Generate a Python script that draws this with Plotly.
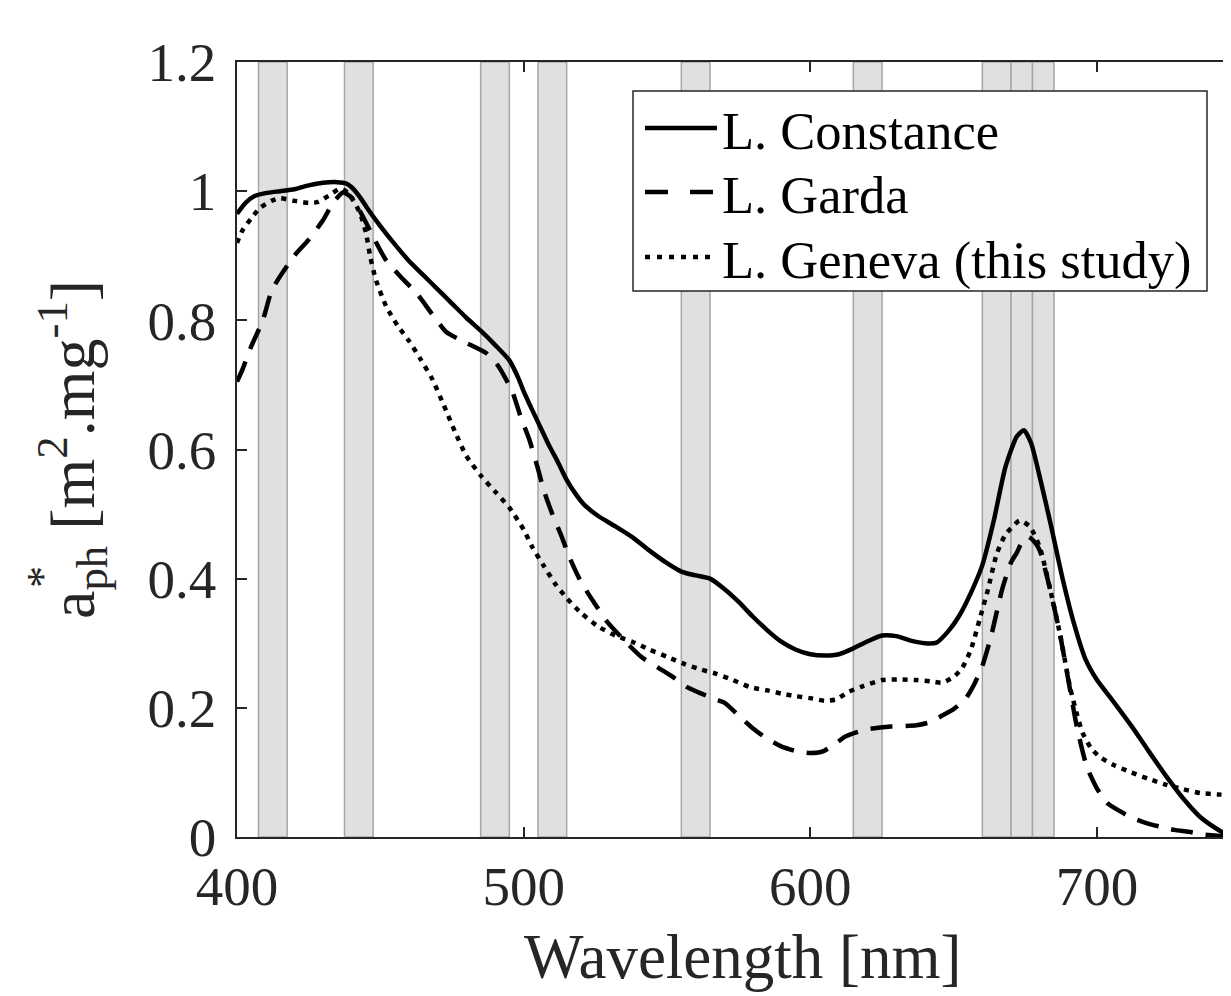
import plotly.graph_objects as go

# ---------------- data ----------------
wl_constance = [400, 403, 406, 410, 415, 420, 425, 430, 435, 438, 440, 443, 446, 450, 455, 460, 465, 470,
                475, 480, 485, 490, 495, 498, 500, 503, 506, 509, 512, 515, 518, 521, 526, 532, 538, 544,
                550, 555, 560, 565, 570, 575, 580, 585, 590, 595, 600, 605, 610, 615, 620, 625, 630, 635,
                640, 644, 648, 652, 656, 660, 664, 668, 672, 674.5, 677, 680, 684, 688, 692, 696, 700, 705,
                712, 718, 724, 730, 736, 742, 747, 750]
a_constance = [0.965, 0.982, 0.992, 0.997, 1.000, 1.003, 1.009, 1.013, 1.014, 1.012, 1.006, 0.990, 0.970,
               0.946, 0.918, 0.892, 0.870, 0.848, 0.826, 0.804, 0.784, 0.762, 0.738, 0.712, 0.690, 0.661,
               0.633, 0.605, 0.580, 0.553, 0.532, 0.515, 0.497, 0.481, 0.464, 0.443, 0.424, 0.411, 0.405,
               0.400, 0.384, 0.364, 0.341, 0.320, 0.302, 0.290, 0.283, 0.281, 0.283, 0.292, 0.303, 0.312,
               0.311, 0.304, 0.300, 0.301, 0.318, 0.343, 0.378, 0.421, 0.490, 0.572, 0.620, 0.630, 0.610,
               0.558, 0.481, 0.400, 0.330, 0.275, 0.243, 0.214, 0.172, 0.133, 0.095, 0.060, 0.031, 0.012,
               0.000, -0.004]

wl_garda = [400, 402, 405, 409, 412, 415, 420, 425, 430, 433.5, 437, 440, 444, 448, 452, 457, 463, 468,
            473, 480, 487, 491, 496, 499, 502, 505, 507, 510, 513, 516, 520, 525, 529, 535, 541, 547, 552,
            557, 562, 567, 570, 575, 580, 585, 590, 596, 600, 604, 608, 612, 616, 620, 628, 637, 642, 646,
            650, 654, 657, 660, 663, 667, 670, 672, 674, 676, 678, 680, 683, 687, 690.6, 693, 696.5, 700,
            703.5, 708, 712, 717, 722, 727, 732, 737, 742, 750]
a_garda = [0.705, 0.725, 0.760, 0.800, 0.845, 0.868, 0.900, 0.925, 0.955, 0.982, 0.998, 0.990, 0.960, 0.925,
           0.893, 0.868, 0.840, 0.810, 0.782, 0.765, 0.749, 0.730, 0.690, 0.650, 0.615, 0.570, 0.537, 0.500,
           0.468, 0.433, 0.395, 0.360, 0.334, 0.305, 0.279, 0.262, 0.248, 0.232, 0.222, 0.213, 0.208, 0.188,
           0.168, 0.152, 0.140, 0.132, 0.130, 0.132, 0.142, 0.155, 0.162, 0.167, 0.171, 0.173, 0.178, 0.188,
           0.198, 0.213, 0.235, 0.265, 0.310, 0.385, 0.425, 0.440, 0.458, 0.465, 0.458, 0.444, 0.395, 0.316,
           0.228, 0.170, 0.108, 0.075, 0.053, 0.040, 0.030, 0.022, 0.016, 0.011, 0.008, 0.004, 0.002, 0.000]

wl_geneva = [400, 402, 405, 408, 412, 415, 420, 425, 428, 432, 436, 438, 440.5, 443, 445, 446.5, 448.5, 452,
             456, 460, 464, 468, 472, 476, 480, 485, 490, 495, 500, 503, 507, 511, 515, 520, 526, 532, 538,
             544, 550, 556, 562, 567, 573, 579, 585, 590, 595, 600, 605, 609, 613, 618, 625, 631, 637, 642,
             646, 650, 653, 656, 659, 662, 665, 668, 670, 673, 676.5, 680, 683.5, 687, 690.6, 693, 695, 698,
             701, 706, 712, 718, 724, 730, 736, 742, 750]
a_geneva = [0.920, 0.940, 0.958, 0.974, 0.985, 0.989, 0.985, 0.982, 0.983, 0.993, 1.004, 1.000, 0.986, 0.965,
            0.935, 0.898, 0.862, 0.822, 0.792, 0.768, 0.740, 0.710, 0.670, 0.628, 0.590, 0.560, 0.535, 0.510,
            0.476, 0.449, 0.420, 0.392, 0.370, 0.347, 0.326, 0.312, 0.302, 0.290, 0.279, 0.268, 0.259, 0.253,
            0.243, 0.232, 0.227, 0.222, 0.218, 0.215, 0.211, 0.213, 0.224, 0.233, 0.243, 0.244, 0.243, 0.241,
            0.239, 0.248, 0.262, 0.290, 0.336, 0.384, 0.438, 0.468, 0.478, 0.490, 0.481, 0.449, 0.387, 0.316,
            0.232, 0.190, 0.161, 0.137, 0.124, 0.111, 0.100, 0.090, 0.081, 0.074, 0.068, 0.066, 0.064]

series_names = ["L. Constance", "L. Garda", "L. Geneva (this study)"]

# OLCI band centres and widths (nm)
band_centers = [412.5, 442.5, 490, 510, 560, 620, 665, 673.75, 681.25]
band_widths = [10, 10, 10, 10, 10, 10, 10, 7.5, 7.5]

x_ticks = [400, 500, 600, 700]
y_ticks = [0, 0.2, 0.4, 0.6, 0.8, 1.0, 1.2]
y_tick_text = ["0", "0.2", "0.4", "0.6", "0.8", "1", "1.2"]

# ---------------- layout geometry ----------------
OFF = 8                      # default page body margin
W, H = 1231 - OFF, 996 - OFF
L0, T0, BOT0 = 237, 62, 837  # plot box in screen pixels
L, T = L0 - OFF, T0 - OFF
PW, PH = 1231 - L0, BOT0 - T0
B = H - T - PH
X_RANGE = [400, 400 + PW / 2.8667]
Y_RANGE = [0, 1.2]
FONT = "Liberation Serif"
INK = "#262626"


def px(xp):
    return (xp - L0) / PW


def py(yp):
    return (BOT0 - yp) / PH


fig = go.Figure()

plot_dash = ["solid", "22px,13px", "5px,6px"]
legend_dash = ["solid", "23px,22px", "5px,7px"]
for name, xs, ys, dash in zip(series_names, [wl_constance, wl_garda, wl_geneva],
                              [a_constance, a_garda, a_geneva], plot_dash):
    fig.add_trace(go.Scatter(x=xs, y=ys, mode="lines", name=name,
                             line=dict(color="black", width=4.5, dash=dash, shape="spline", smoothing=0.6),
                             showlegend=False))

shapes = []
for c, w in zip(band_centers, band_widths):
    shapes.append(dict(type="rect", xref="x", yref="y", x0=c - w / 2, x1=c + w / 2, y0=0, y1=1.2,
                       fillcolor="#e0e0e0", line=dict(color="#a6a6a6", width=1.5), layer="below"))

# right-axis tick stubs (right axis lies just beyond the visible canvas)
for v in y_ticks:
    shapes.append(dict(type="line", xref="paper", yref="y", x0=1 - 4 / PW, x1=1.0, y0=v, y1=v,
                       line=dict(color=INK, width=1.5)))

# legend box
shapes.append(dict(type="rect", xref="paper", yref="paper", x0=px(633), x1=px(1207), y0=py(291), y1=py(91),
                   fillcolor="white", line=dict(color=INK, width=1.5), layer="above"))
leg_y = [128, 192, 257]
for yy, dash in zip(leg_y, legend_dash):
    shapes.append(dict(type="line", xref="paper", yref="paper", x0=px(645), x1=px(717), y0=py(yy), y1=py(yy),
                       line=dict(color="black", width=4.5, dash=dash), layer="above"))

annotations = []
for yy, name in zip(leg_y, series_names):
    annotations.append(dict(xref="paper", yref="paper", x=px(720), y=py(yy + 3), xanchor="left",
                            yanchor="middle", text=name, showarrow=False,
                            font=dict(family=FONT, size=52.5, color="black")))

# axis titles
annotations.append(dict(xref="paper", yref="paper", x=px(743), y=py(957), xanchor="center", yanchor="middle",
                        text="Wavelength [nm]", showarrow=False, font=dict(family=FONT, size=63, color=INK)))
annotations.append(dict(xref="paper", yref="paper", x=px(72), y=py(450), xanchor="center", yanchor="middle",
                        textangle=-90, text="a<sub>ph</sub> [m<sup>2</sup>.mg<sup>-1</sup>]", showarrow=False,
                        font=dict(family=FONT, size=64, color=INK)))
annotations.append(dict(xref="paper", yref="paper", x=px(42), y=py(577), xanchor="center", yanchor="middle",
                        textangle=-90, text="*", showarrow=False, font=dict(family=FONT, size=44, color=INK)))

fig.update_layout(
    width=W, height=H, autosize=False,
    margin=dict(l=L, r=0, t=T, b=B, pad=0),
    plot_bgcolor="white", paper_bgcolor="white",
    font=dict(family=FONT, color=INK),
    shapes=shapes, annotations=annotations,
    xaxis=dict(range=X_RANGE, tickvals=x_ticks, ticktext=[str(v) for v in x_ticks],
               showgrid=False, zeroline=False, showline=True, linecolor=INK, linewidth=1.5,
               mirror="ticks", ticks="inside", ticklen=10, tickwidth=1.5, tickcolor=INK,
               tickfont=dict(family=FONT, size=55, color=INK), ticklabelstandoff=0),
    yaxis=dict(range=Y_RANGE, tickvals=y_ticks, ticktext=y_tick_text,
               showgrid=False, zeroline=False, showline=True, linecolor=INK, linewidth=1.5,
               mirror=False, ticks="inside", ticklen=10, tickwidth=1.5, tickcolor=INK,
               tickfont=dict(family=FONT, size=55, color=INK), ticklabelstandoff=8),
)

fig.write_html("out.html")
